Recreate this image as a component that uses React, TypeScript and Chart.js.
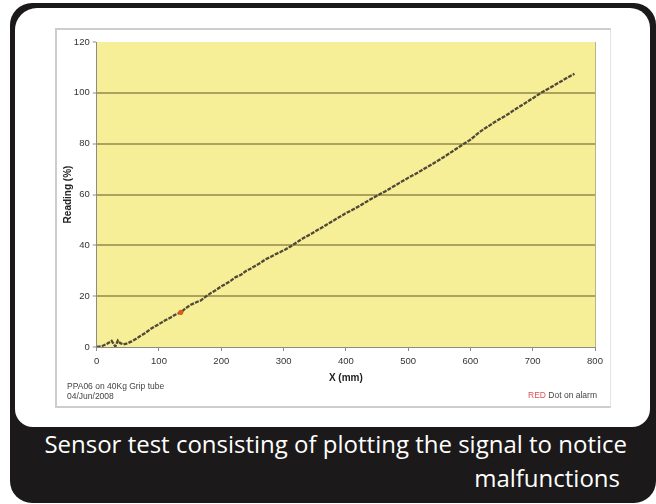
import React, { useEffect, useRef } from "react";
import Chart from "chart.js/auto";

// ---- data ----
const xTickValues = [0, 100, 200, 300, 400, 500, 600, 700, 800];
const yTickValues = [0, 20, 40, 60, 80, 100, 120];

const positionMm = [
  0, 8, 16, 24, 30, 34, 38, 43, 50, 56, 62, 70, 78, 86, 94, 102, 110, 118, 126, 135,
  143, 151, 159, 167, 175, 183, 191, 199, 207, 215, 223, 231, 239, 247, 255, 263, 271,
  279, 287, 295, 303, 311, 319, 327, 335, 343, 351, 359, 367, 375, 383, 391, 399, 407,
  415, 423, 431, 439, 447, 455, 463, 471, 479, 487, 495, 503, 511, 519, 527, 535, 543,
  551, 559, 567, 575, 583, 591, 599, 607, 615, 623, 631, 639, 647, 655, 663, 671, 679,
  687, 695, 703, 711, 719, 727, 735, 743, 751, 759, 767,
];
const readingPct = [
  0, 0.3, 1.2, 2.4, 0.2, 2.5, 1.5, 1.0, 1.5, 2.2, 3.0, 4.3, 5.5, 7.0, 8.2, 9.3, 10.5, 11.5, 12.7, 13.6,
  15.3, 16.6, 17.5, 18.3, 19.8, 21.2, 22.3, 23.7, 24.8, 26.0, 27.5, 28.3, 29.8, 30.8, 32.0, 33.1, 34.5,
  35.4, 36.5, 37.4, 38.4, 39.5, 40.8, 42.1, 43.3, 44.3, 45.5, 46.6, 47.8, 49.0, 50.2, 51.3, 52.5, 53.5,
  54.6, 55.6, 56.9, 58.0, 59.1, 60.2, 61.2, 62.4, 63.5, 64.7, 65.8, 67.0, 68.0, 69.1, 70.3, 71.4, 72.6,
  73.8, 75.0, 76.3, 77.6, 78.9, 80.2, 81.4, 83.0, 84.6, 86.0, 87.2, 88.5, 89.7, 90.8, 92.0, 93.4, 94.6,
  95.8, 97.1, 98.3, 99.6, 100.8, 101.9, 103.0, 104.2, 105.3, 106.4, 107.5,
];
const alarmX = [135];
const alarmY = [13.6];

const xTitle = "X (mm)";
const yTitle = "Reading (%)";
const noteLine1 = "PPA06 on 40Kg Grip tube";
const noteLine2 = "04/Jun/2008";
const captionLine1 = "Sensor test consisting of plotting the signal to notice";
const captionLine2 = "malfunctions";

const CANVAS_W = 552;
const CANVAS_H = 376;

const plotBg = {
  id: "plotBg",
  beforeDraw(chart: any) {
    const { ctx, chartArea } = chart;
    if (!chartArea) return;
    ctx.save();
    ctx.fillStyle = "#F7EE98";
    ctx.fillRect(chartArea.left, chartArea.top, chartArea.right - chartArea.left, chartArea.bottom - chartArea.top);
    ctx.strokeStyle = "#b9b48a";
    ctx.lineWidth = 1;
    ctx.beginPath();
    ctx.moveTo(chartArea.right + 0.5, chartArea.top);
    ctx.lineTo(chartArea.right + 0.5, chartArea.bottom);
    ctx.stroke();
    ctx.restore();
  },
};

export default function App() {
  const canvasRef = useRef<HTMLCanvasElement | null>(null);

  useEffect(() => {
    const canvas = canvasRef.current;
    if (!canvas) return;
    const lineData = positionMm.map((x, i) => ({ x, y: readingPct[i] }));
    const alarmData = alarmX.map((x, i) => ({ x, y: alarmY[i] }));
    const tickFont = { family: "'Liberation Sans', Arial, sans-serif", size: 9.5 };
    const chart = new Chart(canvas, {
      type: "scatter",
      data: {
        datasets: [
          {
            data: alarmData,
            showLine: false,
            pointRadius: 2.2,
            pointBackgroundColor: "#dd5a1e",
            pointBorderColor: "#dd5a1e",
            order: 0,
          },
          {
            data: lineData,
            showLine: true,
            borderColor: "#4f4936",
            borderWidth: 2.3,
            borderDash: [4, 1.2],
            pointRadius: 0,
            tension: 0,
            order: 1,
          },
        ],
      },
      options: {
        animation: false,
        responsive: false,
        devicePixelRatio: 1,
        layout: { padding: { left: 0, top: 12, right: 14, bottom: 18 } },
        plugins: { legend: { display: false }, tooltip: { enabled: false } },
        scales: {
          x: {
            type: "linear",
            min: 0,
            max: 800,
            afterFit: (s: any) => {
              s.height = 41;
            },
            afterBuildTicks: (s: any) => {
              s.ticks = xTickValues.map((v) => ({ value: v }));
            },
            ticks: { color: "#333", font: tickFont, padding: 5, maxRotation: 0 },
            grid: {
              drawOnChartArea: false,
              drawTicks: true,
              tickLength: 4,
              tickColor: "#8a8a8a",
              tickWidth: 1,
            },
            border: { color: "#8a8a8a", width: 1 },
            title: {
              display: true,
              text: xTitle,
              color: "#222",
              font: { family: "'Liberation Sans', Arial, sans-serif", size: 10, weight: "bold" },
              padding: { top: 0, bottom: 4 },
            },
          },
          y: {
            type: "linear",
            min: 0,
            max: 120,
            afterFit: (s: any) => {
              s.width = 39.7;
            },
            afterBuildTicks: (s: any) => {
              s.ticks = yTickValues.map((v) => ({ value: v }));
            },
            ticks: { color: "#333", font: tickFont, padding: 3 },
            grid: {
              color: (c: any) =>
                c.tick && (c.tick.value === 0 || c.tick.value === 120) ? "rgba(0,0,0,0)" : "#ADA160",
              lineWidth: 2,
              drawTicks: true,
              tickLength: 4,
              tickColor: "#8a8a8a",
              tickWidth: 1,
            },
            border: { color: "#8a8a8a", width: 1 },
            title: {
              display: true,
              text: yTitle,
              color: "#222",
              font: { family: "'Liberation Sans', Arial, sans-serif", size: 10, weight: "bold" },
              padding: { top: 5, bottom: 0 },
            },
          },
        },
      },
      plugins: [plotBg],
    });
    return () => chart.destroy();
  }, []);

  const noteFont: React.CSSProperties = {
    position: "absolute",
    fontFamily: "'Liberation Sans', Arial, sans-serif",
    fontSize: 8.5,
    lineHeight: "10px",
    color: "#444",
    whiteSpace: "nowrap",
  };
  const captionFont: React.CSSProperties = {
    position: "absolute",
    fontFamily: "'Open Sans', 'Noto Sans', sans-serif",
    fontWeight: 400,
    fontSize: 24,
    lineHeight: "24px",
    color: "#ffffff",
    whiteSpace: "nowrap",
  };

  return (
    <div style={{ position: "absolute", left: 0, top: 0, width: 656, height: 504, background: "#fff", overflow: "hidden" }}>
      <div
        style={{
          position: "absolute",
          left: 10,
          top: 3,
          width: 646,
          height: 500,
          background: "#1b1919",
          borderRadius: 22,
        }}
      />
      <div
        style={{
          position: "absolute",
          left: 15,
          top: 8,
          width: 635,
          height: 419,
          background: "#fff",
          borderRadius: "22px 20px 18px 18px",
        }}
      />
      <div
        style={{
          position: "absolute",
          left: 55,
          top: 28,
          width: 556,
          height: 380,
          boxSizing: "border-box",
          border: "2px solid #cdcdcd",
          borderRight: "1px solid #e4e4e4",
          background: "#fff",
        }}
      />
      <canvas
        ref={canvasRef}
        width={CANVAS_W}
        height={CANVAS_H}
        style={{ position: "absolute", left: 57, top: 30, width: CANVAS_W, height: CANVAS_H }}
      />
      <div style={{ ...noteFont, left: 67, top: 381 }}>
        {noteLine1}
        <br />
        {noteLine2}
      </div>
      <div style={{ ...noteFont, left: 528, top: 390 }}>
        <span style={{ color: "#e05050" }}>RED</span> Dot on alarm
      </div>
      <div style={{ ...captionFont, right: 29, top: 432 }}>{captionLine1}</div>
      <div style={{ ...captionFont, right: 36, top: 466 }}>{captionLine2}</div>
    </div>
  );
}
